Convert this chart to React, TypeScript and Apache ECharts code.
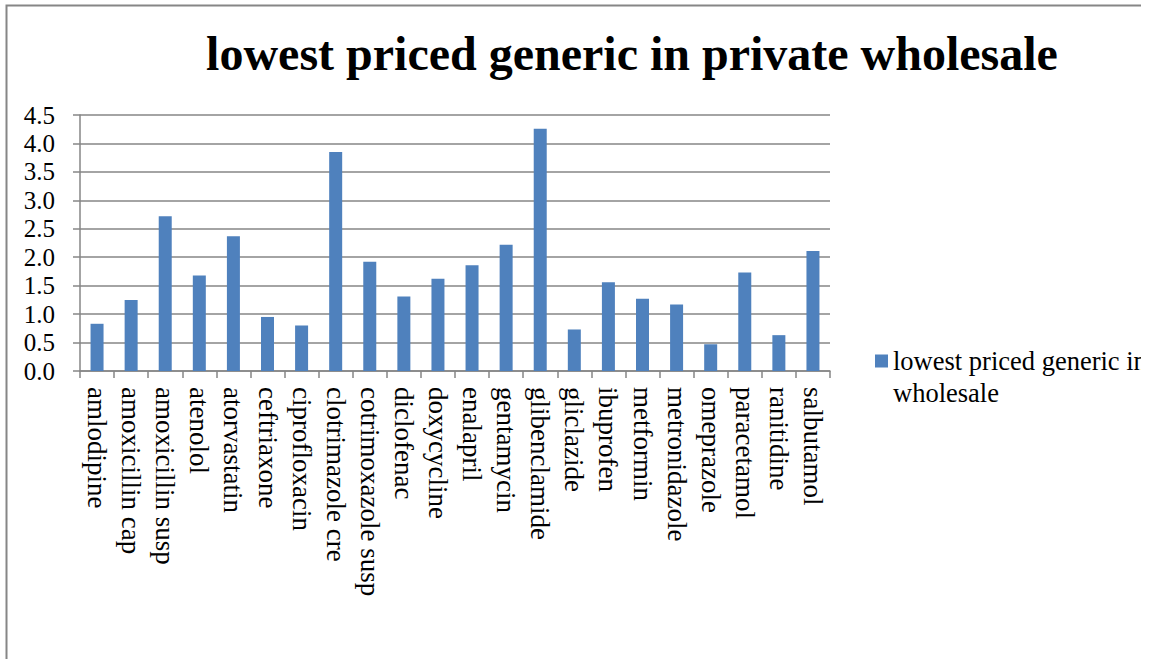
import React, { useEffect, useRef } from "react";
import * as echarts from "echarts";

const categories = [
  "amlodipine", "amoxicillin cap", "amoxicillin susp", "atenolol", "atorvastatin",
  "ceftriaxone", "ciprofloxacin", "clotrimazole cre", "cotrimoxazole susp", "diclofenac",
  "doxycycline", "enalapril", "gentamycin", "glibenclamide", "gliclazide", "ibuprofen",
  "metformin", "metronidazole", "omeprazole", "paracetamol", "ranitidine", "salbutamol",
];

const prices = [
  0.83, 1.25, 2.72, 1.68, 2.37, 0.95, 0.8, 3.85, 1.92, 1.31, 1.62,
  1.86, 2.22, 4.26, 0.73, 1.56, 1.27, 1.17, 0.47, 1.73, 0.63, 2.11,
];

const seriesName = "lowest priced generic in private wholesale";
const titleText = "lowest priced generic in private wholesale";

const SERIF = "'Liberation Serif', 'Times New Roman', serif";
const GRAY = "#868686";

export default function App() {
  const ref = useRef<HTMLDivElement>(null);

  useEffect(() => {
    if (!ref.current) return;
    const chart = echarts.init(ref.current, null, { renderer: "svg" });
    chart.setOption({
      animation: false,
      backgroundColor: "#ffffff",
      textStyle: { fontFamily: SERIF },
      title: {
        text: titleText,
        left: 627,
        textAlign: "center",
        top: 24,
        textStyle: { fontFamily: SERIF, fontWeight: "bold", fontSize: 48, color: "#000" },
      },
      legend: {
        left: 870,
        top: 308,
        orient: "vertical",
        icon: "rect",
        itemWidth: 13,
        itemHeight: 13,
        itemGap: 0,
        // leading blank line keeps the first text line level with the swatch
        formatter: () => "\nlowest priced generic in private\nwholesale",
        textStyle: {
          fontFamily: SERIF,
          fontSize: 26.5,
          color: "#000",
          lineHeight: 32,
        },
      },
      grid: { left: 80, right: 311, top: 115, bottom: 288 },
      xAxis: {
        type: "category",
        data: categories,
        boundaryGap: true,
        axisLine: { lineStyle: { color: GRAY, width: 1.5 } },
        axisTick: { show: true, length: 7, interval: 0, lineStyle: { color: GRAY, width: 1.5 } },
        axisLabel: {
          interval: 0,
          rotate: -90,
          margin: 16,
          fontFamily: SERIF,
          fontSize: 27,
          color: "#000",
        },
      },
      yAxis: {
        type: "value",
        min: 0,
        max: 4.5,
        interval: 0.5,
        axisLine: { show: true, lineStyle: { color: GRAY, width: 1.5 } },
        axisTick: { show: true, length: 7, lineStyle: { color: GRAY, width: 1.5 } },
        splitLine: { lineStyle: { color: GRAY, width: 1.5 } },
        axisLabel: {
          formatter: (v: number) => v.toFixed(1),
          fontFamily: SERIF,
          fontSize: 25,
          color: "#000",
          margin: 25,
        },
      },
      series: [
        {
          name: seriesName,
          type: "bar",
          data: prices,
          barWidth: 13,
          itemStyle: { color: "#4f81bd" },
        },
      ],
      graphic: [
        {
          type: "polyline",
          silent: true,
          shape: { points: [[6.5, 700], [6.5, 5.5], [1141, 5.5]] },
          style: { stroke: GRAY, lineWidth: 2, fill: "none" },
        },
      ],
    });
    return () => chart.dispose();
  }, []);

  return (
    <div
      ref={ref}
      style={{ position: "absolute", left: 0, top: 0, width: 1141, height: 659 }}
    />
  );
}
